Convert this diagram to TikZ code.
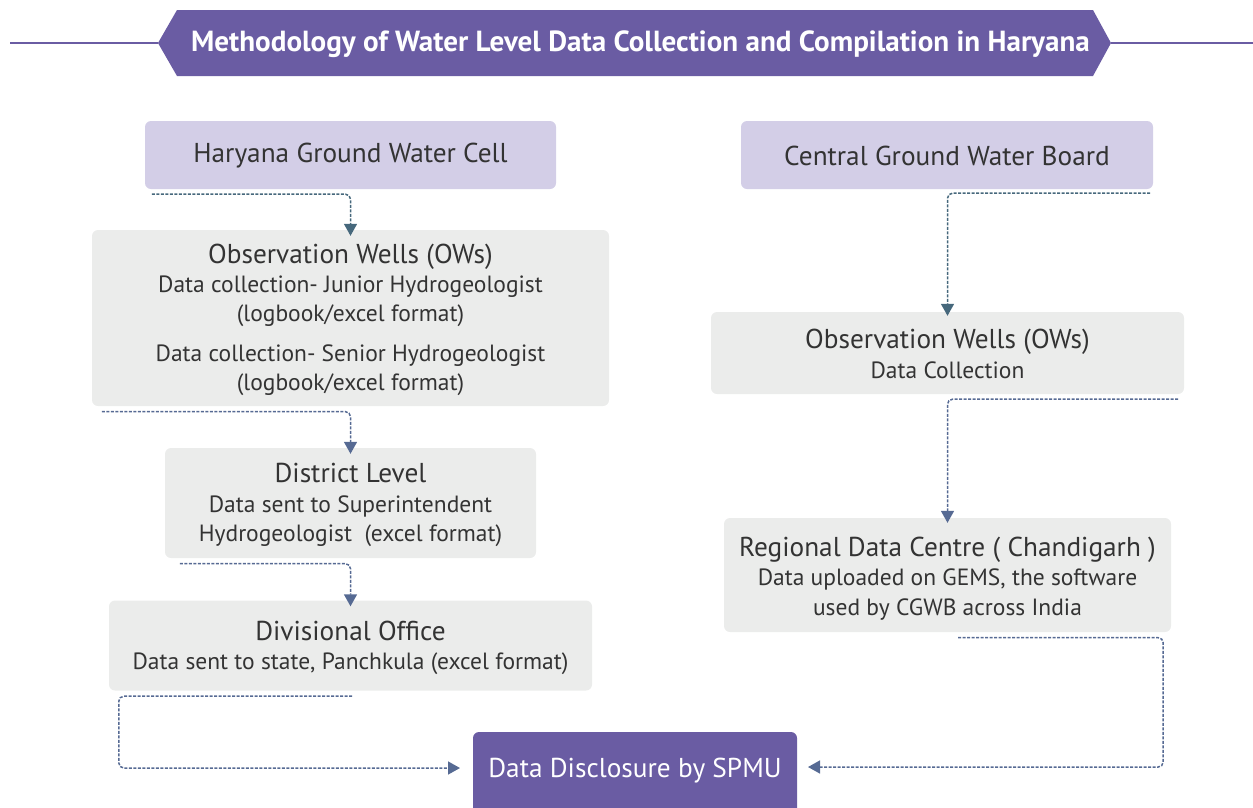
\documentclass[tikz,border=0pt]{standalone}
\usepackage{fontspec}
\setmainfont{PT Sans}
\usetikzlibrary{arrows.meta}
\definecolor{purp}{HTML}{6A5CA3}
\definecolor{lav}{HTML}{D3CEE7}
\definecolor{lgray}{HTML}{EBECEB}
\definecolor{txt}{HTML}{333333}
\definecolor{connA}{HTML}{46687C}
\definecolor{connB}{HTML}{566A93}
\newcommand{\bigtxt}{\fontsize{27.3}{31}\selectfont}
\tikzset{
  box/.style={rectangle, rounded corners=6pt, inner sep=0pt},
  lavbox/.style={box, fill=lav},
  graybox/.style={box, fill=lgray},
  boxtext/.style={inner sep=0pt, align=center, text=txt, font=\fontsize{23.5}{29.5}\selectfont},
  conn/.style={line width=1.5pt, dash pattern=on 3pt off 1.5pt, rounded corners=5pt, -{Triangle[width=13pt,length=12pt]}},
}
\begin{document}
\begin{tikzpicture}[x=1pt,y=-1pt]
\useasboundingbox (0,0) rectangle (1253,807);
% title
\draw[purp, line width=2pt] (10,43) -- (158,43);
\draw[purp, line width=2pt] (1111,43) -- (1253,43);
\fill[purp] (158,43) -- (177,10) -- (1093,10) -- (1111,43) -- (1093,76) -- (177,76) -- cycle;
\node[text=white, font=\fontsize{29.1}{32}\selectfont\bfseries] (title) at (640.5,44) {Methodology of Water Level Data Collection and Compilation in Haryana};
% boxes
\node[lavbox, minimum width=411pt, minimum height=68pt] (hgwc) at (350.5,155) {};
\node[boxtext] (hgwct) at ([yshift=-1pt]hgwc.center) {\bigtxt Haryana Ground Water Cell};
\node[lavbox, minimum width=412pt, minimum height=68pt] (cgwb) at (947,155) {};
\node[boxtext] (cgwbt) at ([yshift=-1pt]cgwb.center) {\bigtxt Central Ground Water Board};
\node[graybox, minimum width=517pt, minimum height=176pt] (ow1) at (350.5,318) {};
\node[boxtext] (ow1t) at ([yshift=-2pt]ow1.center) {{\bigtxt Observation Wells (OWs)}\\[-1pt]
Data collection- Junior Hydrogeologist\\(logbook/excel format)\\[10pt]
Data collection- Senior Hydrogeologist\\(logbook/excel format)};
\node[graybox, minimum width=371pt, minimum height=110pt] (dist) at (350.5,503) {};
\node[boxtext] (distt) at ([yshift=-2pt]dist.center) {{\bigtxt District Level}\\
Data sent to Superintendent\\Hydrogeologist\ \ (excel format)};
\node[graybox, minimum width=483pt, minimum height=90pt] (div) at (350.5,645.5) {};
\node[boxtext] (divt) at ([yshift=-2.5pt]div.center) {{\bigtxt Divisional Office}\\
Data sent to state, Panchkula (excel format)};
\node[graybox, minimum width=473pt, minimum height=82pt] (ow2) at (947.5,353) {};
\node[boxtext] (ow2t) at ([yshift=-1pt]ow2.center) {{\bigtxt Observation Wells (OWs)}\\
Data Collection};
\node[graybox, minimum width=447pt, minimum height=114pt] (rdc) at (947.5,575) {};
\node[boxtext] (rdct) at ([yshift=-3.5pt]rdc.center) {{\bigtxt Regional Data Centre ( Chandigarh )}\\
Data uploaded on GEMS, the software\\used by CGWB across India};
\fill[purp, rounded corners=6pt] (473,732) rectangle (797,830);
\node[text=white, font=\bigtxt] (spmu) at (635,771) {Data Disclosure by SPMU};
\coordinate (spmuL) at (460,768);
\coordinate (spmuR) at (808,767);
% connectors
\draw[conn, connA] ([xshift=7pt,yshift=-5pt]hgwc.south west) -| ([yshift=-6pt]ow1.north);
\draw[conn, connB] ([xshift=10pt,yshift=-5.5pt]ow1.south west) -| ([yshift=-6pt]dist.north);
\draw[conn, connB] ([xshift=15pt,yshift=-5.5pt]dist.south west) -| ([yshift=-6pt]div.north);
\draw[conn, connB] ([xshift=1.5pt,yshift=-5.5pt]div.south) -- ([xshift=10pt,yshift=-5.5pt]div.south west) |- (spmuL);
\draw[conn, connA] ([xshift=-3pt,yshift=-4pt]cgwb.south east) -| ([yshift=-4pt]ow2.north);
\draw[conn, connB] ([xshift=-6pt,yshift=-5pt]ow2.south east) -| ([yshift=-5pt]rdc.north);
\draw[conn, connB] ([xshift=10.5pt,yshift=-5.5pt]rdc.south) -- ([xshift=-8pt,yshift=-5.5pt]rdc.south east) |- (spmuR);
\end{tikzpicture}
\end{document}
